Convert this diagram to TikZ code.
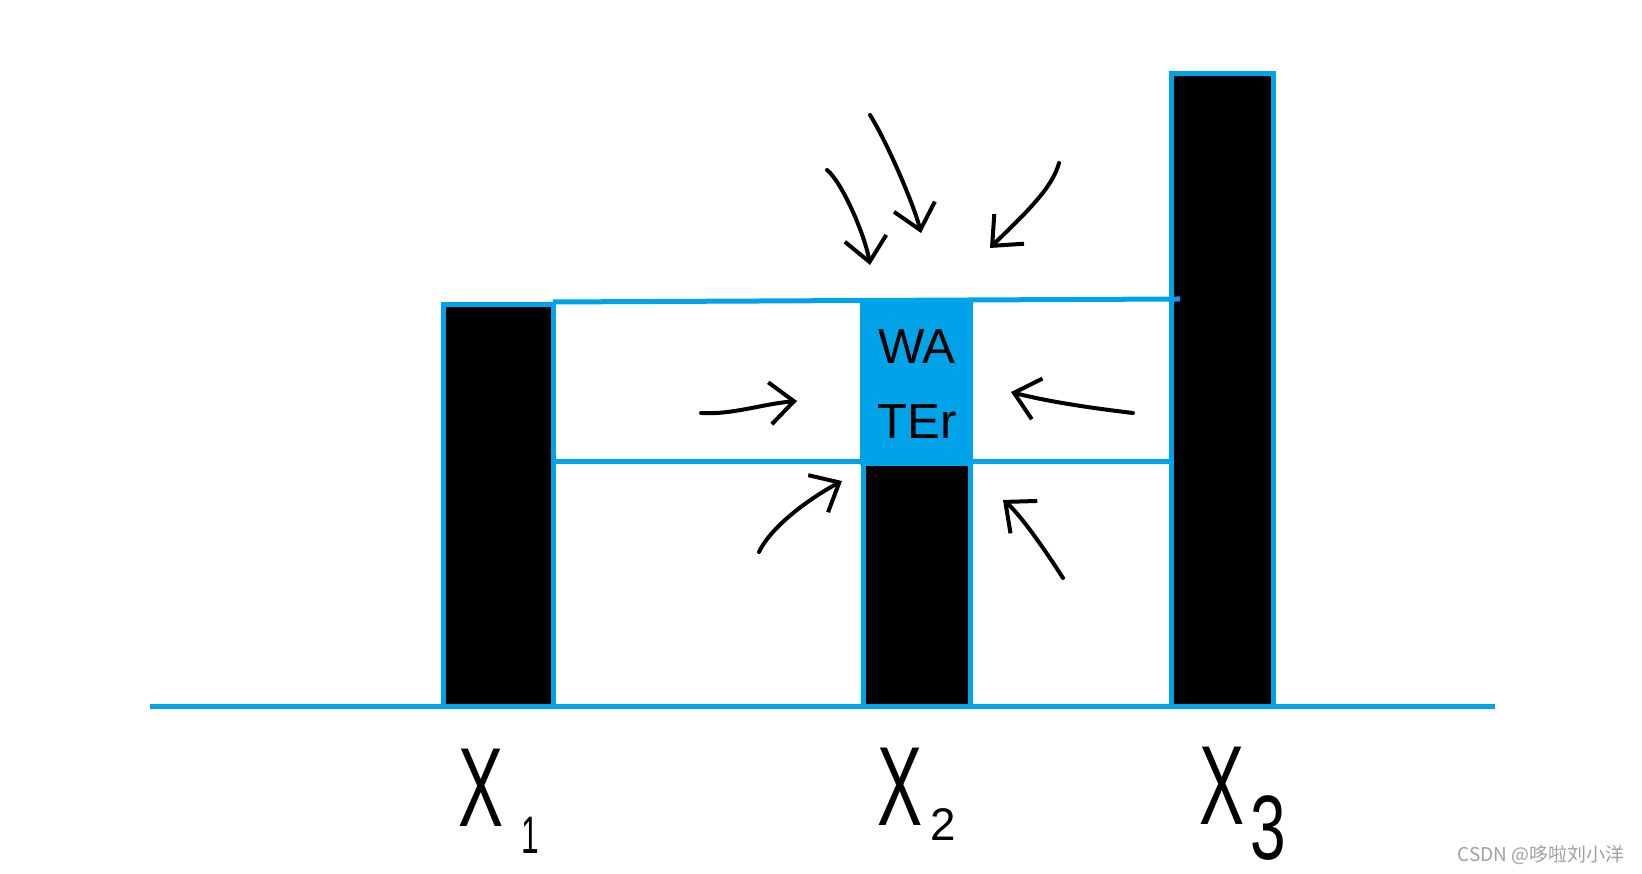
\documentclass[tikz,border=0pt]{standalone}
\usepackage{fontspec}
\setmainfont{Liberation Sans}
\newfontfamily\cjk{Noto Sans CJK SC}
\usetikzlibrary{arrows.meta}
\definecolor{paintblue}{HTML}{00A2E8}
\definecolor{markgray}{HTML}{A0A0A0}

\begin{document}
\begin{tikzpicture}[
  x=0.01cm, y=-0.01cm,
  bar/.style={draw=paintblue, fill=black, line width=0.05cm},
  level/.style={draw=paintblue, line width=0.05cm},
  flow/.style={-{Straight Barb[length=0.24cm,width=0.42cm]}, line width=0.04cm, line cap=round},
  lab/.style={font=\fontsize{32}{32}\selectfont, xscale=0.6, inner sep=0pt},
  sub/.style={inner sep=0pt}
]
\useasboundingbox (0,0) rectangle (1642,874);

% water block
\fill[paintblue] (860,298) rectangle (973,465);
\node[font=\fontsize{14}{21.5}\selectfont, align=center] (water) at (917,384) {WA\\TEr};

% bars
\draw[bar] (443.5,304.5) rectangle (553.5,707);
\draw[bar] (863.5,464) rectangle (970.5,707);
\draw[bar] (1171,73.5) rectangle (1273,707);

% water levels and ground
\draw[level] (553,302) -- (1180,299);
\draw[level] (553,462) -- (1171,462);
\draw[level] (150,707) -- (1495,707);

% arrows pointing at the water
\draw[flow] (827,170) .. controls (842,182) and (865,235) .. (870,265);
\draw[flow] (870,115) .. controls (887,142) and (914,205) .. (921,233);
\draw[flow] (1059,163) .. controls (1052,190) and (1020,218) .. (990,248);
\draw[flow] (701,413) .. controls (732,415) and (762,404) .. (797,401);
\draw[flow] (1133,413) .. controls (1090,408) and (1045,401) .. (1011,392);
\draw[flow] (759,552) .. controls (772,525) and (812,497) .. (842,481);
\draw[flow] (1063,578) .. controls (1045,550) and (1020,514) .. (1003,500);

% labels
\node[lab] (x1) at (481,788) {X};
\node[sub, font=\fontsize{15}{15}\selectfont, xscale=0.6] (s1) at (530,835) {1};
\node[lab] (x2) at (900,787) {X};
\node[sub, font=\fontsize{13}{13}\selectfont] (s2) at (943,825) {2};
\node[lab] (x3) at (1222,786) {X};
\node[sub, font=\fontsize{26}{26}\selectfont, xscale=0.7] (s3) at (1268,828) {3};

\node[font=\cjk\fontsize{5.4}{6}\selectfont, text=markgray, inner sep=0pt] (mark) at (1541,855) {CSDN @哆啦刘小洋};
\end{tikzpicture}
\end{document}
